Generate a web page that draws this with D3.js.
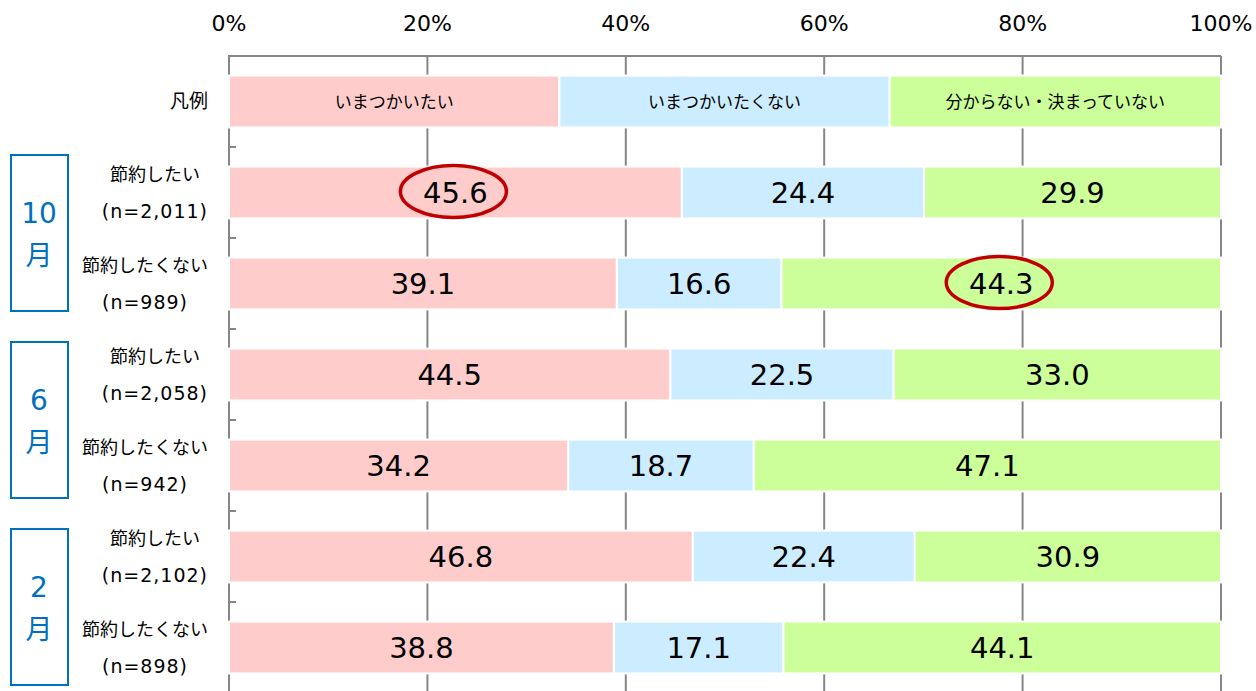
<!DOCTYPE html>
<html>
<head>
<meta charset="utf-8">
<script src="https://cdn.jsdelivr.net/npm/d3@7"></script>
<style>
  body { margin: 0; background: #fff; }
  svg text { font-family: "DejaVu Sans", "Noto Sans CJK JP", sans-serif; }
</style>
</head>
<body>
<svg id="chart" width="1256" height="691"></svg>
<script>
// Series (stack order, left to right)
var seriesNames = ["いまつかいたい", "いまつかいたくない", "分からない・決まっていない"];
var seriesColors = ["#FFCCCC", "#CCECFF", "#CCFF99"];

// Rows: legend row first, then 3 months x 2 groups
var rowLine1 = ["凡例", "節約したい", "節約したくない", "節約したい", "節約したくない", "節約したい", "節約したくない"];
var rowLine2 = ["", "(n=2,011)", "(n=989)", "(n=2,058)", "(n=942)", "(n=2,102)", "(n=898)"];

// Values (%) per series, same order as rows (legend row = equal thirds)
var wantUse    = [33.3, 45.6, 39.1, 44.5, 34.2, 46.8, 38.8];
var notWantUse = [33.3, 24.4, 16.6, 22.5, 18.7, 22.4, 17.1];
var unknown    = [33.4, 29.9, 44.3, 33.0, 47.1, 30.9, 44.1];

// Month groups: label and which rows they cover
var months = ["10", "6", "2"];
var monthRows = [[1, 2], [3, 4], [5, 6]];

// Highlighted labels (row index, series index)
var highlights = [[1, 0], [2, 2]];

var tickValues = [0, 20, 40, 60, 80, 100];

var svg = d3.select("#chart");
var m_left = 229, m_right = 1221, m_top = 56, m_bottom = 693;
var gridCol = "#868686", monthCol = "#0070C0";

var x = d3.scaleLinear().domain([0, 100]).range([m_left, m_right]);
var y = d3.scaleBand().domain(d3.range(rowLine1.length)).range([m_top, m_bottom]).paddingInner(0.43).paddingOuter(0.215);

var rows = rowLine1.map(function(d, i) {
  var vals = [wantUse[i], notWantUse[i], unknown[i]];
  var total = d3.sum(vals), acc = 0;
  return vals.map(function(v, s) {
    var seg = {row: i, s: s, v: v, x0: acc / total * 100, x1: (acc + v) / total * 100};
    acc += v;
    return seg;
  });
});

// gridlines
svg.append("g").selectAll("line")
  .data(tickValues.slice(1))
  .enter().append("line")
  .attr("x1", d => x(d)).attr("x2", d => x(d))
  .attr("y1", m_top).attr("y2", 691)
  .attr("stroke", gridCol).attr("stroke-width", 2);

// top axis line and left axis line
svg.append("line").attr("x1", m_left).attr("x2", m_right).attr("y1", m_top).attr("y2", m_top)
  .attr("stroke", gridCol).attr("stroke-width", 2);
svg.append("line").attr("x1", m_left).attr("x2", m_left).attr("y1", m_top - 1).attr("y2", 691)
  .attr("stroke", gridCol).attr("stroke-width", 2);

// separator ticks on the category axis
var step = y.step();
svg.append("g").selectAll("line")
  .data(d3.range(1, rowLine1.length))
  .enter().append("line")
  .attr("x1", m_left).attr("x2", m_left + 7)
  .attr("y1", d => m_top + d * step).attr("y2", d => m_top + d * step)
  .attr("stroke", gridCol).attr("stroke-width", 2);

// tick labels
svg.append("g").selectAll("text")
  .data(tickValues)
  .enter().append("text")
  .attr("x", d => x(d)).attr("y", 31)
  .attr("text-anchor", "middle")
  .attr("font-size", 22).attr("fill", "#000")
  .text(d => d + "%");

// bars
svg.append("g").selectAll("g")
  .data(rows).enter().append("g")
  .selectAll("rect")
  .data(d => d).enter()
  .append("rect")
  .attr("x", d => x(d.x0))
  .attr("y", d => y(d.row))
  .attr("width", d => x(d.x1) - x(d.x0))
  .attr("height", y.bandwidth())
  .attr("fill", d => seriesColors[d.s])
  .attr("stroke", "#fff").attr("stroke-width", 2);

// labels in bars
svg.append("g").selectAll("text")
  .data(rows.flat())
  .enter().append("text")
  .attr("x", d => x((d.x0 + d.x1) / 2))
  .attr("y", d => y(d.row) + y.bandwidth() / 2)
  .attr("dy", "0.36em")
  .attr("text-anchor", "middle")
  .attr("font-size", d => d.row === 0 ? 17 : 29)
  .attr("fill", "#000")
  .text(d => d.row === 0 ? seriesNames[d.s] : d3.format(".1f")(d.v));

// highlight ellipses
svg.append("g").selectAll("ellipse")
  .data(highlights)
  .enter().append("ellipse")
  .attr("cx", d => x((rows[d[0]][d[1]].x0 + rows[d[0]][d[1]].x1) / 2) - 2)
  .attr("cy", d => y(d[0]) + y.bandwidth() / 2 - 1)
  .attr("rx", 53).attr("ry", 26)
  .attr("fill", "none")
  .attr("stroke", "#C00000").attr("stroke-width", 3.5);

// category labels (two lines, block right-aligned at 208, lines centered)
svg.append("g").selectAll("g")
  .data(rowLine1)
  .enter().append("g")
  .each(function(d, i) {
    var g = d3.select(this);
    var cy = y(i) + y.bandwidth() / 2;
    if (!rowLine2[i]) {
      g.append("text").attr("x", 208).attr("y", cy).attr("dy", "0.36em")
        .attr("text-anchor", "end").attr("font-size", 19).text(d);
      return;
    }
    var t1 = g.append("text").attr("y", cy - 18).attr("dy", "0.36em")
      .attr("text-anchor", "middle").attr("font-size", 18).text(d);
    var t2 = g.append("text").attr("y", cy + 19).attr("dy", "0.36em")
      .attr("text-anchor", "middle").attr("font-size", 19)
      .attr("letter-spacing", 1).text(rowLine2[i]);
    var w = Math.max(t1.node().getComputedTextLength(), t2.node().getComputedTextLength());
    var cx = 208 - w / 2;
    t1.attr("x", cx); t2.attr("x", cx);
  });

// month boxes
svg.append("g").selectAll("g")
  .data(months)
  .enter().append("g")
  .each(function(m, k) {
    var g = d3.select(this);
    var r = monthRows[k];
    var mid = (y(r[0]) + y(r[1]) + y.bandwidth()) / 2 + (k - 1) * 5;
    g.append("rect").attr("x", 11).attr("y", mid - 78)
      .attr("width", 57).attr("height", 156)
      .attr("fill", "#fff").attr("stroke", monthCol).attr("stroke-width", 2);
    g.append("text").attr("x", 39).attr("y", mid - 20).attr("dy", "0.36em")
      .attr("text-anchor", "middle").attr("font-size", 28).attr("fill", monthCol).text(m);
    g.append("text").attr("x", 39).attr("y", mid + 22).attr("dy", "0.36em")
      .attr("text-anchor", "middle").attr("font-size", 27).attr("fill", monthCol).text("月");
  });
</script>
</body>
</html>
